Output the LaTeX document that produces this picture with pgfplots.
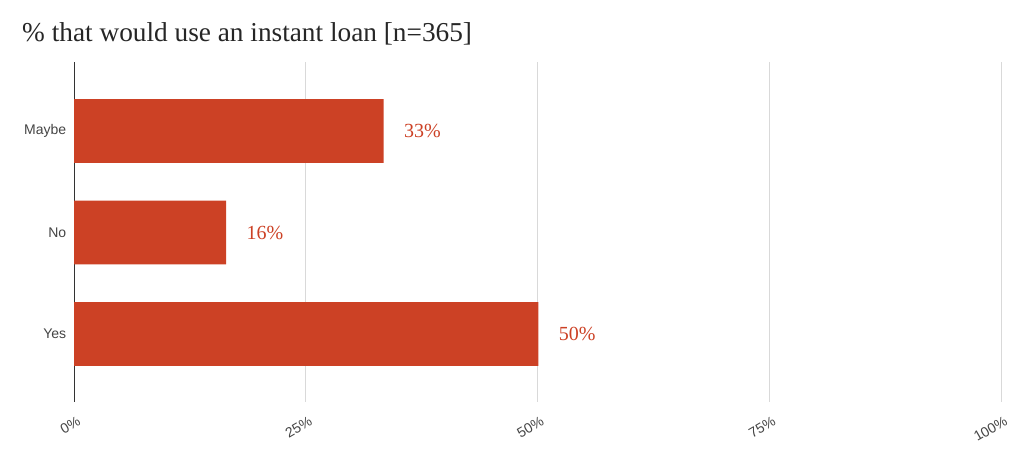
\documentclass[border=0pt]{standalone}
\usepackage{pgfplots}
\pgfplotsset{compat=1.18}
\usepackage{fontspec}
\setmainfont{Liberation Serif}
\newfontfamily\sans{Liberation Sans}
\definecolor{barred}{HTML}{CC4125}
\definecolor{txt}{HTML}{444444}
\definecolor{gridc}{HTML}{D9D9D9}
\begin{document}
\begin{tikzpicture}
\path[use as bounding box] (0,0) rectangle (1024bp,458bp);
\begin{axis}[
  at={(74bp,56bp)}, anchor=south west,
  scale only axis, width=927bp, height=340bp,
  xbar, bar width=0.63,
  xmin=0, xmax=100, ymin=-0.67, ymax=2.68,
  xtick={0,25,50,75,100}, xticklabels={0\%,25\%,50\%,75\%,100\%},
  ytick={0,1,2}, yticklabels={Yes,No,Maybe},
  xmajorgrids, major grid style={gridc, line width=1bp},
  axis y line*=left, axis x line*=bottom,
  x axis line style={draw=none},
  y axis line style={black!80, line width=1bp},
  tick style={draw=none},
  xticklabel style={font=\sans\fontsize{14bp}{14bp}\selectfont, text=txt, rotate=30, anchor=east, xshift=-1bp, yshift=-18bp},
  yticklabel style={font=\sans\fontsize{14bp}{14bp}\selectfont, text=txt},
  nodes near coords, point meta=explicit symbolic,
  nodes near coords style={font=\fontsize{20bp}{20bp}\selectfont, text=barred, anchor=west, xshift=17bp},
]
\addplot[fill=barred, draw=none] coordinates {(50.1,0) [50\%] (16.4,1) [16\%] (33.4,2) [33\%]};
\end{axis}
\node[anchor=base west, font=\fontsize{27.3bp}{27.3bp}\selectfont, text=black!85, inner sep=0pt] at (22bp,416bp) {\% that would use an instant loan [n=365]};
\end{tikzpicture}
\end{document}
